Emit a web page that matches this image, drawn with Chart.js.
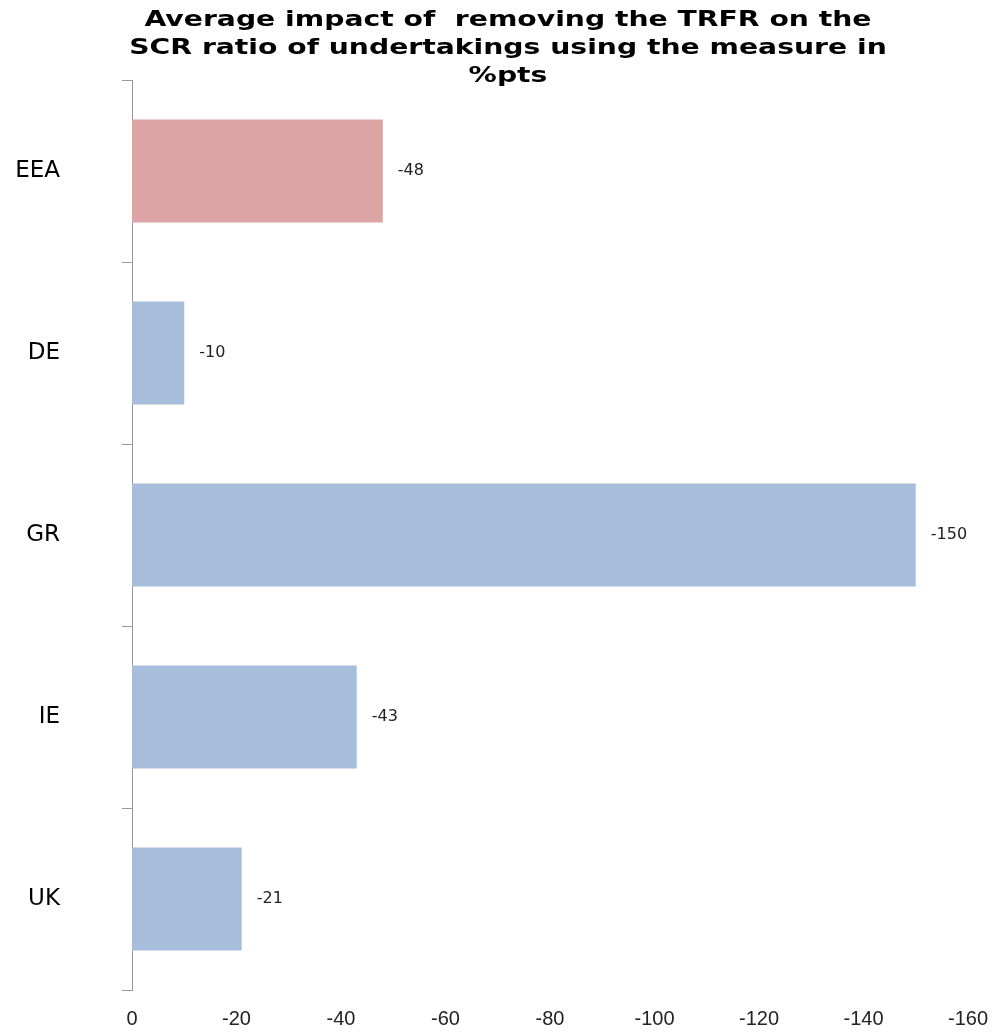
<!DOCTYPE html>
<html>
<head>
<meta charset="utf-8">
<script src="https://cdn.jsdelivr.net/npm/chart.js@4/dist/chart.umd.min.js"></script>
<style>
html,body{margin:0;padding:0;background:#fff;overflow:hidden;}
#wrap{width:1000px;height:1034px;position:relative;}
canvas{display:block;}
</style>
</head>
<body>
<div id="wrap"><canvas id="c" width="1000" height="1034"></canvas></div>
<script>
const categories = ["EEA", "DE", "GR", "IE", "UK"];
const values = [-48, -10, -150, -43, -21];
const barColors = ["#DCA4A4", "#A6BEDC", "#A6BEDC", "#A6BEDC", "#A6BEDC"];
const xTicks = [0, -20, -40, -60, -80, -100, -120, -140, -160];
const titleLines = ["Average impact of  removing the TRFR on the", "SCR ratio of undertakings using the measure in", "%pts"];

const valueLabels = {
  id: 'valueLabels',
  afterDatasetsDraw(chart) {
    const ctx = chart.ctx;
    const meta = chart.getDatasetMeta(0);
    ctx.save();
    ctx.font = '16px "DejaVu Sans"';
    ctx.fillStyle = '#222';
    ctx.textAlign = 'left';
    ctx.textBaseline = 'middle';
    meta.data.forEach((bar, i) => {
      ctx.fillText(String(values[i]), bar.x + 15, bar.y);
    });
    ctx.restore();
  }
};

// Title drawn as real canvas text, slightly widened like the reference
const wideTitle = {
  id: 'wideTitle',
  afterDraw(chart) {
    const ctx = chart.ctx;
    ctx.save();
    ctx.font = 'bold 21px "DejaVu Sans"';
    ctx.fillStyle = '#000';
    ctx.textAlign = 'center';
    ctx.textBaseline = 'middle';
    const w0 = ctx.measureText(titleLines[0]).width;
    const sx = 727 / w0;
    const cx = 508;
    const ys = [21, 49, 77];
    titleLines.forEach((line, i) => {
      ctx.save();
      ctx.translate(cx, ys[i]);
      ctx.scale(sx, 1);
      ctx.fillText(line, 0, 0);
      ctx.restore();
    });
    ctx.restore();
  }
};

new Chart(document.getElementById('c'), {
  type: 'bar',
  data: {
    labels: categories,
    datasets: [{
      data: values,
      backgroundColor: barColors,
      borderWidth: 0,
      barPercentage: 0.565,
      categoryPercentage: 1.0
    }]
  },
  options: {
    indexAxis: 'y',
    responsive: false,
    animation: false,
    layout: { padding: { left: 0, right: 32, top: 80, bottom: 0 } },
    plugins: {
      legend: { display: false },
      tooltip: { enabled: false },
      title: { display: false }
    },
    scales: {
      x: {
        type: 'linear',
        reverse: true,
        min: -160,
        max: 0,
        afterBuildTicks(scale) { scale.ticks = xTicks.map(v => ({ value: v })); },
        afterFit(scale) { scale.height = 44; scale.paddingLeft = 0; scale.paddingRight = 0; },
        grid: { display: false, drawTicks: false },
        border: { display: false },
        ticks: {
          color: '#222',
          padding: 17,
          font: { family: '"Liberation Sans"', size: 20 },
          maxRotation: 0,
          autoSkip: false,
          callback: v => String(v)
        }
      },
      y: {
        afterFit(scale) { scale.width = 132; scale.paddingTop = 0; scale.paddingBottom = 0; },
        grid: { display: true, drawOnChartArea: false, drawTicks: true, tickLength: 10, color: '#999', offset: true },
        border: { display: true, color: '#999', width: 1 },
        ticks: {
          color: '#000',
          padding: 62,
          font: { family: '"DejaVu Sans"', size: 23 }
        }
      }
    }
  },
  plugins: [valueLabels, wideTitle]
});
</script>
</body>
</html>
